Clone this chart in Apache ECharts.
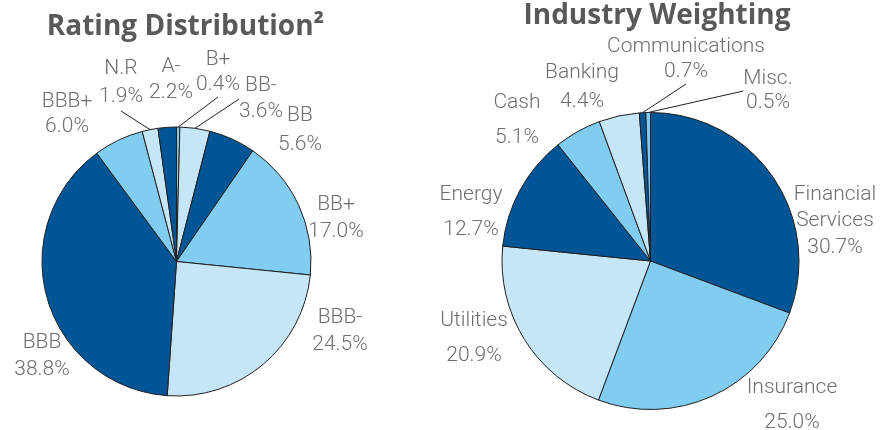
<!DOCTYPE html>
<html>
<head>
<meta charset="utf-8">
<script src="https://cdn.jsdelivr.net/npm/echarts@6/dist/echarts.min.js"></script>
<style>
  html, body { margin: 0; padding: 0; background: #fff; }
  #chart { width: 881px; height: 430px; }
</style>
</head>
<body>
<div id="chart"></div>
<script>
const ratingNames = ['B+', 'BB-', 'BB', 'BB+', 'BBB-', 'BBB', 'BBB+', 'N.R', 'A-'];
const ratingValues = [0.4, 3.6, 5.6, 17.0, 24.5, 38.8, 6.0, 1.9, 2.2];

const industryNames = ['Financial\nServices', 'Insurance', 'Utilities', 'Energy', 'Cash', 'Banking', 'Communications', 'Misc.'];
const industryValues = [30.7, 25.0, 20.9, 12.7, 5.1, 4.4, 0.7, 0.5];

// label placement: centre of each text block, line spacing, leader line on/off
const ratingLabelAt = [[218, 72], [261, 99], [300, 130], [336, 218], [340, 331], [42, 356], [67, 114], [121, 83], [171, 80]];
const ratingLineH = [25, 26, 29, 27, 27, 27, 25, 28, 26];
const ratingLeader = [true, true, false, false, false, false, false, true, false];

const industryLabelAt = [[835, 221], [792, 405], [474, 338], [471, 212], [517, 120], [582, 87], [686, 59], [768, 91]];
const industryLineH = [26.5, 34.5, 34.5, 35.5, 35, 29, 25, 24];
const industryLeader = [false, false, false, false, false, false, true, true];

const DARK = '#005596';
const MID = '#80CDF1';
const PALE = '#C5E6F7';

const chart = echarts.init(document.getElementById('chart'), null, { renderer: 'canvas' });

const labelText = {
  fontFamily: 'Roboto',
  fontWeight: 300,
  fontSize: 21,
  color: '#6d6e71'
};

function buildData(names, values, palette, lineH, leader) {
  return names.map((name, i) => ({
    name,
    value: values[i],
    itemStyle: { color: palette[i % palette.length] },
    label: { lineHeight: lineH[i] },
    labelLine: { show: leader[i] }
  }));
}

function pieSeries(data, center, radius, labelAt) {
  return {
    type: 'pie',
    center,
    radius,
    startAngle: 90,
    clockwise: true,
    avoidLabelOverlap: false,
    silent: true,
    animation: false,
    data,
    itemStyle: { borderColor: '#231f20', borderWidth: 1 },
    label: {
      position: 'outside',
      ...labelText,
      formatter: (p) => p.name + '\n' + p.value.toFixed(1) + '%'
    },
    labelLine: {
      show: false,
      length: 10,
      length2: 0,
      lineStyle: { color: '#231f20', width: 1 }
    },
    labelLayout: (params) => {
      const pos = labelAt[params.dataIndex];
      return { x: pos[0], y: pos[1], align: 'center', verticalAlign: 'middle' };
    }
  };
}

const titleStyle = {
  fontFamily: 'Open Sans',
  fontWeight: 'bold',
  fontSize: 28,
  color: '#58595b'
};

const option = {
  backgroundColor: '#ffffff',
  animation: false,
  title: [
    { text: 'Rating Distribution²', left: 185.5, top: 13, textAlign: 'center', padding: 0, textStyle: titleStyle },
    { text: 'Industry Weighting', left: 657, top: 2, textAlign: 'center', padding: 0, textStyle: titleStyle }
  ],
  series: [
    pieSeries(buildData(ratingNames, ratingValues, [MID, PALE, DARK], ratingLineH, ratingLeader), [176.5, 261.5], 134.5, ratingLabelAt),
    pieSeries(buildData(industryNames, industryValues, [DARK, MID, PALE], industryLineH, industryLeader), [650.5, 261], 148.5, industryLabelAt)
  ]
};

chart.setOption(option);
</script>
</body>
</html>
